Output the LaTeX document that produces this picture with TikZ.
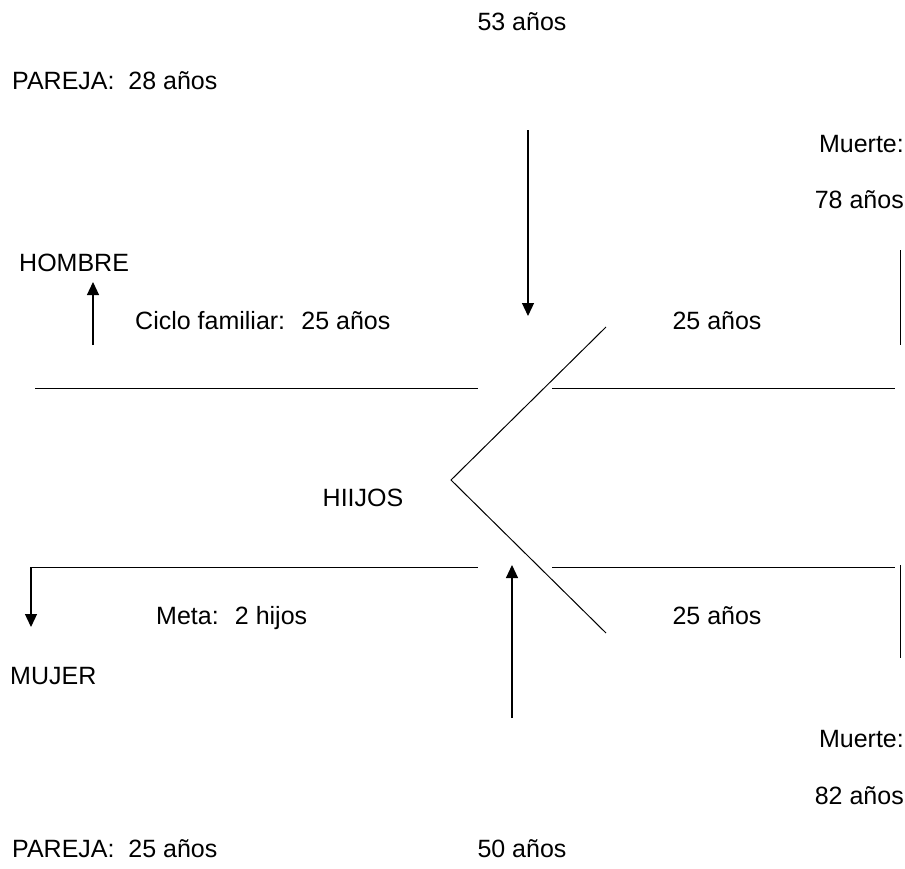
\documentclass[tikz,border=0pt]{standalone}
\usepackage{fontspec}
\setmainfont{Liberation Sans}
\usetikzlibrary{arrows.meta}
\begin{document}
\begin{tikzpicture}[x=1pt,y=-1pt,
  lbl/.style={inner sep=0pt,font=\fontsize{25}{30}\selectfont},
  ln/.style={line width=1pt},
  arr/.style={line width=1.2pt,-{Triangle[width=12pt,length=13pt]}}]
\useasboundingbox (0,0) rectangle (905,868);
% texts
\node[lbl,anchor=base] (t53) at (522,30) {53 años};
\node[lbl,anchor=base west] (p28) at (12,89) {PAREJA:~ 28 años};
\node[lbl,anchor=base east] (m1) at (904,152) {Muerte:};
\node[lbl,anchor=base east] (a78) at (904,208) {78 años};
\node[lbl,anchor=base west] (hom) at (19,271) {HOMBRE};
\node[lbl,anchor=base west] (cic) at (135,329) {Ciclo familiar:~ 25 años};
\node[lbl,anchor=base] (u25) at (717,329) {25 años};
\node[lbl,anchor=base] (hij) at (363,506) {HIIJOS};
\node[lbl,anchor=base west] (meta) at (156,624) {Meta:~ 2 hijos};
\node[lbl,anchor=base] (l25) at (717,624) {25 años};
\node[lbl,anchor=base west] (muj) at (10,684) {MUJER};
\node[lbl,anchor=base east] (m2) at (904,747) {Muerte:};
\node[lbl,anchor=base east] (a82) at (904,804) {82 años};
\node[lbl,anchor=base west] (p25) at (12,857) {PAREJA:~ 25 años};
\node[lbl,anchor=base] (t50) at (522,857) {50 años};
% coordinates
\coordinate (ha1) at (93,345); \coordinate (ha2) at (93,282);
\coordinate (da1) at (528,130); \coordinate (da2) at (528,316);
\coordinate (ua1) at (512,718); \coordinate (ua2) at (512,565);
\coordinate (lb1) at (31,567); \coordinate (lb2) at (31,627);
\coordinate (ul1) at (35,388); \coordinate (ul2) at (478,388);
\coordinate (ur1) at (552,388); \coordinate (ur2) at (895,388);
\coordinate (ll1) at (31,567); \coordinate (ll2) at (478,567);
\coordinate (lr1) at (552,567); \coordinate (lr2) at (895,567);
\coordinate (vt) at (606,327); \coordinate (vv) at (451,480); \coordinate (vb) at (606,633);
\coordinate (rb1) at (900,250); \coordinate (rb2) at (900,345);
\coordinate (rc1) at (900,565); \coordinate (rc2) at (900,658);
% lines
\draw[ln] (ul1) -- (ul2);
\draw[ln] (ur1) -- (ur2);
\draw[ln] (ll1) -- (ll2);
\draw[ln] (lr1) -- (lr2);
\draw[ln] (vt) -- (vv) -- (vb);
\draw[ln] (rb1) -- (rb2);
\draw[ln] (rc1) -- (rc2);
% arrows
\draw[arr] (ha1) -- (ha2);
\draw[arr] (da1) -- (da2);
\draw[arr] (ua1) -- (ua2);
\draw[arr] (lb1) -- (lb2);
\end{tikzpicture}
\end{document}
